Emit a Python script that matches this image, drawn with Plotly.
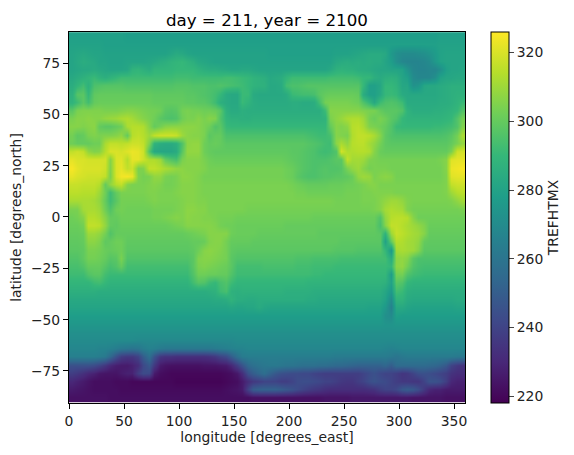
#!/usr/bin/env python3
"""Map of TREFHTMX for day 211, year 2100, values read off the reference picture."""

import plotly.graph_objects as go

# cell centres, 5 degree columns and 4 degree rows
lon = [2.5, 7.5, 12.5, 17.5, 22.5, 27.5, 32.5, 37.5, 42.5, 47.5, 52.5, 57.5, 62.5, 67.5, 72.5, 77.5, 82.5, 87.5,
       92.5, 97.5, 102.5, 107.5, 112.5, 117.5, 122.5, 127.5, 132.5, 137.5, 142.5, 147.5, 152.5, 157.5, 162.5, 167.5, 172.5, 177.5,
       182.5, 187.5, 192.5, 197.5, 202.5, 207.5, 212.5, 217.5, 222.5, 227.5, 232.5, 237.5, 242.5, 247.5, 252.5, 257.5, 262.5, 267.5,
       272.5, 277.5, 282.5, 287.5, 292.5, 297.5, 302.5, 307.5, 312.5, 317.5, 322.5, 327.5, 332.5, 337.5, 342.5, 347.5, 352.5, 357.5]
lat = [88, 84, 80, 76, 72, 68, 64, 60, 56, 52, 48, 44, 40, 36, 32, 28, 24, 20, 16, 12, 8, 4, 0,
       -4, -8, -12, -16, -20, -24, -28, -32, -36, -40, -44, -48, -52, -56, -60, -64, -68, -72, -76, -80, -84, -88]

# one row per latitude, four blocks of 18 columns each
trefhtmx = [
    [279, 279, 279, 279, 279, 279, 279, 279, 279, 279, 278, 278, 278, 278, 278, 278, 278, 278,
     278, 278, 278, 278, 278, 278, 278, 278, 278, 278, 278, 278, 278, 278, 278, 278, 278, 278,
     278, 278, 278, 278, 278, 278, 278, 278, 278, 278, 278, 278, 278, 278, 278, 278, 278, 278,
     278, 278, 278, 278, 278, 278, 278, 278, 278, 278, 278, 278, 278, 279, 279, 279, 279, 279],
    [280, 280, 280, 280, 280, 280, 279, 279, 279, 279, 279, 279, 279, 279, 279, 279, 279, 279,
     279, 279, 279, 279, 279, 279, 279, 279, 279, 279, 279, 279, 279, 279, 279, 279, 279, 279,
     279, 279, 279, 279, 279, 279, 279, 279, 279, 279, 279, 279, 279, 279, 279, 279, 279, 279,
     279, 279, 279, 279, 279, 279, 279, 279, 279, 279, 279, 279, 279, 280, 280, 280, 280, 280],
    [281, 282, 283, 282, 281, 281, 280, 280, 280, 280, 280, 280, 280, 280, 280, 280, 280, 280,
     282, 284, 283, 281, 280, 280, 280, 280, 280, 280, 280, 280, 280, 280, 280, 280, 280, 280,
     279, 279, 279, 279, 279, 279, 279, 279, 279, 279, 279, 279, 280, 280, 280, 281, 282, 283,
     284, 284, 284, 283, 276, 272, 270, 270, 270, 271, 272, 274, 277, 280, 281, 281, 281, 281],
    [281, 283, 285, 284, 283, 281, 281, 280, 280, 280, 281, 281, 281, 281, 282, 283, 285, 286,
     288, 289, 290, 288, 286, 283, 282, 281, 280, 280, 280, 280, 280, 280, 280, 280, 280, 280,
     280, 280, 280, 280, 280, 280, 280, 280, 280, 280, 280, 280, 283, 284, 285, 284, 285, 284,
     285, 284, 284, 281, 278, 272, 268, 267, 267, 267, 268, 270, 276, 280, 281, 281, 281, 281],
    [281, 282, 283, 283, 284, 283, 282, 281, 281, 281, 282, 288, 289, 287, 285, 289, 289, 289,
     289, 290, 290, 290, 290, 288, 286, 285, 285, 284, 283, 282, 282, 283, 283, 282, 281, 281,
     281, 281, 281, 281, 281, 281, 281, 281, 281, 281, 281, 283, 287, 288, 287, 287, 285, 285,
     284, 283, 282, 282, 281, 281, 280, 274, 268, 267, 267, 268, 268, 272, 279, 281, 281, 282],
    [283, 285, 287, 289, 291, 288, 286, 288, 290, 292, 292, 292, 292, 292, 292, 292, 292, 292,
     292, 293, 293, 293, 292, 292, 292, 292, 292, 292, 293, 293, 292, 291, 290, 288, 287, 286,
     283, 284, 285, 289, 292, 292, 292, 292, 292, 292, 292, 293, 293, 293, 293, 293, 292, 290,
     290, 286, 284, 286, 287, 286, 281, 279, 270, 268, 268, 268, 272, 280, 282, 282, 283, 283],
    [285, 289, 293, 287, 295, 296, 297, 297, 297, 297, 296, 296, 296, 296, 296, 296, 296, 296,
     296, 297, 297, 297, 296, 296, 296, 295, 295, 296, 295, 294, 293, 292, 290, 288, 287, 287,
     283, 283, 284, 293, 295, 295, 296, 297, 297, 297, 297, 297, 297, 297, 297, 297, 297, 290,
     279, 279, 282, 290, 290, 288, 282, 282, 273, 275, 282, 283, 283, 284, 285, 286, 286, 286],
    [287, 297, 298, 290, 299, 300, 300, 300, 300, 300, 300, 300, 300, 300, 300, 299, 299, 299,
     299, 299, 299, 298, 298, 297, 296, 295, 293, 290, 284, 283, 283, 291, 291, 284, 283, 283,
     283, 283, 283, 284, 291, 292, 293, 293, 294, 298, 300, 301, 301, 301, 301, 301, 300, 285,
     279, 279, 283, 290, 291, 290, 284, 283, 283, 283, 283, 283, 283, 284, 285, 286, 287, 287],
    [288, 292, 298, 293, 300, 301, 301, 301, 301, 301, 301, 301, 301, 301, 301, 300, 300, 300,
     300, 300, 300, 299, 299, 298, 298, 296, 292, 286, 284, 283, 283, 291, 288, 285, 284, 284,
     284, 284, 284, 284, 285, 285, 284, 284, 285, 293, 303, 304, 304, 304, 304, 303, 302, 296,
     290, 283, 292, 295, 296, 295, 292, 284, 284, 284, 284, 284, 284, 285, 285, 286, 288, 291],
    [298, 304, 305, 305, 305, 305, 304, 304, 304, 305, 306, 306, 305, 304, 303, 303, 302, 298,
     297, 298, 303, 304, 303, 303, 302, 302, 301, 298, 287, 284, 284, 286, 285, 285, 285, 285,
     285, 285, 285, 285, 285, 285, 285, 285, 285, 285, 292, 306, 306, 306, 306, 306, 306, 305,
     304, 304, 300, 298, 298, 298, 296, 288, 285, 285, 285, 285, 286, 286, 287, 288, 290, 296],
    [304, 306, 306, 307, 306, 306, 308, 309, 310, 312, 313, 311, 308, 306, 304, 302, 298, 296,
     295, 296, 302, 304, 304, 306, 304, 306, 305, 296, 289, 287, 287, 286, 286, 287, 287, 287,
     287, 287, 287, 287, 287, 287, 287, 287, 287, 287, 288, 304, 307, 309, 312, 313, 313, 310,
     303, 301, 304, 302, 298, 296, 290, 288, 288, 288, 288, 288, 288, 288, 289, 290, 296, 303],
    [306, 306, 305, 306, 307, 300, 298, 298, 300, 302, 312, 314, 314, 313, 306, 300, 303, 306,
     307, 307, 307, 307, 307, 306, 304, 302, 296, 298, 291, 290, 290, 290, 290, 290, 290, 290,
     290, 290, 290, 290, 290, 290, 290, 290, 290, 290, 290, 300, 306, 305, 307, 314, 315, 312,
     305, 304, 302, 300, 296, 291, 290, 290, 290, 290, 290, 290, 291, 291, 292, 293, 296, 305],
    [303, 299, 300, 304, 305, 304, 305, 305, 306, 308, 300, 314, 316, 314, 310, 316, 318, 318,
     318, 317, 310, 307, 306, 306, 304, 298, 300, 300, 295, 295, 295, 295, 295, 295, 295, 295,
     295, 295, 295, 295, 295, 295, 295, 294, 293, 292, 292, 294, 306, 305, 304, 313, 316, 316,
     315, 312, 306, 299, 296, 295, 295, 295, 295, 295, 295, 295, 295, 295, 296, 298, 303, 312],
    [302, 300, 300, 300, 302, 302, 312, 316, 316, 315, 316, 318, 318, 316, 305, 288, 285, 284,
     284, 286, 296, 307, 308, 308, 302, 300, 301, 300, 298, 298, 298, 298, 298, 298, 298, 298,
     298, 298, 298, 298, 298, 298, 298, 297, 296, 295, 293, 292, 307, 312, 308, 314, 315, 315,
     311, 308, 303, 299, 298, 298, 298, 298, 298, 298, 298, 298, 298, 298, 298, 300, 304, 308],
    [316, 318, 316, 308, 305, 306, 314, 320, 320, 319, 321, 323, 322, 318, 296, 283, 282, 282,
     282, 284, 298, 308, 308, 308, 302, 300, 299, 299, 299, 299, 299, 299, 299, 299, 299, 299,
     299, 299, 299, 299, 298, 298, 297, 296, 295, 293, 292, 293, 296, 319, 313, 313, 314, 314,
     313, 306, 301, 300, 300, 300, 300, 300, 300, 300, 300, 300, 300, 300, 300, 304, 318, 319],
    [322, 320, 320, 319, 319, 319, 319, 306, 320, 321, 314, 322, 322, 318, 313, 313, 310, 300,
     296, 294, 304, 306, 306, 306, 304, 302, 301, 301, 301, 301, 301, 301, 301, 301, 301, 301,
     301, 301, 301, 300, 299, 298, 297, 296, 295, 295, 295, 296, 298, 298, 316, 311, 311, 310,
     305, 304, 303, 303, 303, 303, 303, 303, 303, 303, 303, 303, 303, 304, 306, 321, 322, 322],
    [325, 322, 320, 320, 320, 320, 318, 305, 320, 322, 316, 318, 304, 305, 316, 316, 314, 312,
     310, 308, 307, 306, 306, 306, 305, 303, 303, 303, 303, 303, 303, 303, 303, 303, 303, 303,
     303, 303, 303, 302, 301, 299, 297, 296, 295, 296, 297, 296, 296, 297, 304, 308, 310, 306,
     303, 304, 304, 304, 303, 303, 303, 303, 303, 303, 303, 303, 303, 303, 306, 323, 324, 325],
    [322, 320, 319, 318, 318, 318, 316, 304, 320, 324, 325, 323, 305, 303, 304, 308, 308, 304,
     303, 304, 307, 307, 306, 305, 303, 303, 303, 303, 303, 303, 303, 303, 303, 303, 303, 303,
     303, 303, 303, 302, 301, 298, 296, 295, 295, 296, 297, 297, 298, 298, 299, 301, 308, 310,
     309, 304, 306, 307, 306, 303, 303, 303, 303, 303, 303, 303, 303, 303, 305, 321, 322, 322],
    [317, 317, 316, 316, 316, 314, 300, 308, 314, 316, 306, 304, 304, 304, 305, 306, 305, 303,
     303, 304, 306, 306, 306, 305, 304, 304, 304, 304, 304, 304, 304, 304, 304, 304, 304, 304,
     304, 304, 304, 304, 303, 302, 301, 300, 300, 300, 300, 301, 301, 301, 302, 302, 303, 304,
     306, 306, 304, 304, 304, 304, 304, 304, 304, 304, 304, 304, 304, 304, 305, 316, 318, 318],
    [315, 315, 314, 314, 314, 310, 302, 292, 300, 304, 304, 304, 304, 304, 305, 305, 304, 304,
     304, 305, 306, 306, 306, 305, 304, 304, 304, 304, 304, 304, 304, 304, 304, 304, 304, 304,
     304, 304, 304, 304, 304, 303, 303, 302, 302, 302, 302, 302, 302, 302, 303, 303, 303, 304,
     304, 305, 305, 305, 305, 304, 304, 304, 304, 304, 304, 304, 304, 304, 305, 310, 314, 315],
    [312, 312, 312, 312, 311, 308, 300, 292, 298, 303, 303, 303, 303, 303, 304, 305, 304, 304,
     304, 304, 305, 306, 306, 305, 305, 304, 304, 304, 304, 304, 304, 304, 304, 304, 304, 304,
     304, 304, 304, 304, 304, 304, 304, 304, 304, 304, 304, 304, 303, 303, 303, 303, 303, 304,
     304, 304, 306, 308, 310, 310, 308, 305, 304, 304, 304, 304, 304, 304, 304, 305, 308, 311],
    [304, 304, 311, 312, 312, 310, 302, 296, 302, 303, 302, 302, 302, 302, 302, 303, 303, 303,
     303, 304, 305, 307, 307, 306, 306, 304, 304, 304, 304, 304, 304, 304, 303, 303, 303, 303,
     303, 303, 303, 303, 303, 303, 303, 303, 303, 303, 303, 303, 303, 303, 303, 303, 303, 303,
     303, 304, 306, 311, 313, 312, 311, 305, 303, 303, 303, 303, 303, 303, 303, 303, 303, 304],
    [302, 303, 306, 314, 314, 312, 306, 300, 300, 302, 302, 302, 302, 302, 302, 303, 303, 304,
     305, 306, 305, 307, 306, 306, 305, 305, 304, 303, 303, 303, 302, 302, 302, 302, 302, 302,
     302, 302, 302, 302, 302, 302, 302, 302, 301, 301, 301, 301, 301, 301, 301, 301, 301, 301,
     301, 301, 296, 308, 314, 315, 315, 314, 306, 302, 302, 302, 302, 302, 302, 302, 302, 302],
    [301, 301, 303, 316, 316, 315, 308, 300, 299, 301, 301, 301, 301, 301, 301, 301, 301, 301,
     302, 303, 304, 306, 306, 306, 306, 306, 305, 303, 302, 302, 301, 301, 301, 301, 301, 301,
     301, 301, 301, 300, 300, 300, 300, 300, 300, 300, 300, 300, 300, 300, 300, 300, 300, 300,
     300, 300, 294, 306, 316, 316, 314, 312, 310, 308, 305, 301, 301, 301, 301, 301, 301, 301],
    [300, 300, 301, 310, 310, 308, 303, 296, 300, 300, 300, 300, 300, 300, 300, 300, 300, 300,
     300, 300, 300, 301, 302, 303, 304, 306, 306, 306, 306, 302, 301, 301, 301, 301, 300, 300,
     300, 300, 300, 300, 300, 300, 300, 300, 300, 299, 299, 299, 299, 299, 299, 299, 299, 299,
     299, 299, 298, 288, 310, 317, 315, 313, 311, 310, 306, 300, 300, 300, 300, 300, 300, 300],
    [299, 299, 300, 307, 307, 305, 299, 300, 302, 302, 299, 299, 299, 299, 299, 299, 299, 299,
     299, 299, 299, 299, 300, 300, 301, 305, 306, 306, 303, 300, 300, 300, 300, 299, 299, 299,
     299, 299, 299, 299, 299, 299, 299, 299, 299, 299, 299, 299, 299, 298, 298, 298, 298, 298,
     298, 298, 298, 280, 300, 314, 313, 311, 310, 308, 300, 299, 299, 299, 299, 299, 299, 299],
    [298, 298, 299, 304, 304, 303, 301, 300, 301, 302, 298, 298, 298, 298, 298, 298, 298, 298,
     298, 298, 298, 298, 299, 302, 306, 307, 306, 305, 303, 299, 298, 298, 298, 298, 298, 298,
     298, 298, 298, 298, 298, 298, 298, 298, 298, 298, 298, 298, 297, 297, 297, 297, 296, 296,
     296, 296, 296, 290, 276, 311, 312, 311, 310, 306, 298, 298, 298, 298, 298, 298, 298, 298],
    [296, 296, 299, 303, 303, 302, 300, 297, 298, 304, 296, 296, 296, 296, 296, 296, 296, 296,
     296, 296, 296, 296, 298, 305, 306, 306, 305, 304, 303, 298, 296, 296, 296, 296, 296, 296,
     296, 296, 296, 296, 296, 295, 295, 295, 294, 294, 294, 294, 294, 293, 293, 293, 293, 293,
     293, 293, 293, 293, 285, 307, 308, 306, 298, 295, 295, 295, 295, 295, 295, 295, 295, 295],
    [294, 294, 296, 300, 300, 300, 297, 294, 296, 300, 293, 293, 293, 293, 293, 293, 293, 293,
     293, 293, 293, 293, 298, 304, 305, 304, 303, 302, 301, 298, 293, 293, 293, 293, 293, 294,
     294, 294, 294, 294, 294, 293, 293, 293, 292, 292, 292, 292, 291, 291, 291, 291, 291, 291,
     291, 291, 291, 291, 290, 307, 308, 303, 296, 294, 293, 293, 293, 293, 293, 293, 293, 293],
    [292, 292, 292, 296, 298, 298, 293, 291, 291, 291, 291, 291, 291, 291, 291, 291, 291, 291,
     291, 291, 291, 291, 296, 302, 302, 301, 301, 300, 300, 296, 292, 292, 292, 292, 292, 292,
     292, 292, 292, 292, 292, 292, 292, 292, 291, 291, 290, 290, 290, 290, 290, 290, 290, 290,
     290, 290, 290, 290, 278, 303, 303, 296, 293, 292, 291, 291, 291, 291, 291, 291, 291, 291],
    [289, 289, 289, 289, 292, 293, 290, 288, 288, 288, 288, 288, 288, 288, 288, 288, 288, 288,
     288, 288, 288, 288, 293, 297, 296, 292, 290, 294, 296, 292, 289, 289, 289, 289, 289, 289,
     289, 289, 289, 289, 289, 289, 289, 288, 288, 288, 288, 288, 288, 288, 288, 288, 288, 288,
     288, 288, 288, 287, 280, 298, 296, 290, 288, 288, 288, 288, 288, 288, 288, 288, 288, 288],
    [286, 286, 286, 286, 286, 285, 285, 285, 285, 285, 285, 285, 285, 285, 285, 285, 285, 285,
     285, 285, 285, 285, 285, 285, 285, 286, 287, 292, 294, 287, 286, 287, 287, 287, 287, 287,
     287, 287, 287, 286, 286, 286, 286, 286, 285, 285, 285, 285, 285, 285, 285, 285, 285, 285,
     285, 285, 285, 282, 276, 293, 291, 286, 285, 285, 285, 285, 285, 285, 285, 285, 285, 285],
    [283, 283, 283, 283, 283, 283, 283, 283, 283, 283, 283, 283, 283, 283, 283, 283, 283, 283,
     283, 283, 283, 283, 283, 283, 283, 283, 284, 284, 285, 288, 285, 285, 284, 284, 285, 285,
     285, 285, 285, 285, 285, 285, 285, 284, 284, 283, 283, 283, 283, 283, 283, 283, 283, 283,
     283, 283, 283, 280, 270, 288, 288, 284, 283, 283, 283, 283, 283, 283, 283, 283, 284, 284],
    [281, 281, 281, 281, 281, 281, 281, 281, 281, 281, 281, 281, 281, 281, 281, 281, 281, 281,
     281, 281, 281, 281, 281, 281, 281, 281, 281, 281, 281, 282, 281, 281, 282, 282, 284, 282,
     281, 281, 281, 281, 281, 281, 281, 281, 281, 281, 281, 281, 281, 281, 281, 281, 281, 281,
     280, 280, 280, 276, 266, 283, 283, 281, 280, 280, 280, 280, 280, 280, 280, 280, 281, 281],
    [278, 278, 278, 278, 278, 278, 278, 278, 278, 278, 278, 278, 278, 278, 278, 278, 278, 278,
     278, 278, 278, 278, 278, 278, 278, 278, 278, 278, 278, 278, 278, 278, 278, 278, 278, 278,
     278, 278, 278, 278, 278, 278, 278, 278, 278, 278, 278, 278, 278, 278, 278, 278, 278, 278,
     278, 278, 278, 272, 270, 279, 278, 278, 278, 278, 278, 278, 278, 278, 278, 278, 278, 278],
    [275, 275, 275, 275, 275, 275, 275, 275, 275, 275, 275, 275, 275, 275, 275, 275, 275, 275,
     275, 275, 275, 275, 275, 275, 275, 275, 275, 275, 275, 275, 275, 275, 275, 275, 275, 275,
     275, 275, 275, 275, 275, 275, 275, 275, 275, 275, 275, 275, 275, 275, 275, 275, 275, 275,
     275, 275, 275, 274, 274, 275, 275, 275, 275, 275, 275, 275, 275, 275, 275, 275, 275, 275],
    [272, 272, 272, 272, 272, 272, 272, 272, 272, 272, 272, 272, 272, 272, 272, 272, 272, 272,
     272, 272, 272, 272, 272, 272, 272, 272, 272, 272, 272, 272, 272, 272, 272, 272, 272, 272,
     272, 272, 272, 272, 272, 272, 272, 272, 272, 272, 272, 272, 272, 272, 272, 272, 272, 272,
     272, 272, 272, 272, 272, 272, 272, 272, 272, 272, 272, 272, 272, 272, 272, 272, 272, 272],
    [270, 270, 270, 270, 270, 270, 270, 270, 270, 270, 270, 270, 269, 269, 269, 269, 269, 269,
     269, 269, 269, 269, 269, 269, 269, 269, 269, 269, 269, 269, 270, 270, 270, 270, 270, 270,
     270, 270, 270, 270, 270, 270, 270, 270, 270, 270, 270, 270, 270, 270, 270, 270, 270, 270,
     270, 270, 270, 270, 270, 270, 270, 270, 270, 270, 270, 270, 270, 270, 270, 270, 270, 270],
    [268, 268, 268, 268, 268, 267, 267, 266, 264, 262, 261, 260, 261, 264, 266, 265, 263, 262,
     262, 262, 262, 262, 262, 262, 262, 262, 263, 264, 265, 266, 267, 267, 268, 268, 268, 268,
     268, 268, 268, 268, 268, 268, 268, 268, 268, 268, 268, 268, 268, 268, 268, 268, 268, 268,
     268, 268, 268, 267, 266, 267, 268, 268, 268, 268, 268, 268, 268, 268, 268, 268, 268, 268],
    [265, 265, 265, 265, 265, 264, 262, 255, 245, 238, 236, 236, 240, 250, 258, 246, 236, 234,
     234, 233, 233, 233, 233, 233, 233, 234, 236, 240, 243, 250, 258, 263, 264, 264, 264, 264,
     264, 264, 264, 264, 264, 264, 264, 264, 264, 264, 264, 264, 263, 263, 263, 263, 263, 263,
     263, 263, 263, 263, 262, 260, 262, 263, 263, 263, 263, 263, 263, 263, 263, 263, 262, 262],
    [245, 245, 245, 245, 243, 240, 235, 230, 227, 226, 226, 228, 232, 242, 248, 236, 226, 224,
     223, 223, 223, 223, 223, 223, 224, 224, 224, 225, 226, 230, 238, 246, 255, 258, 260, 261,
     262, 262, 261, 260, 260, 259, 258, 258, 258, 257, 257, 256, 255, 255, 254, 253, 252, 252,
     252, 252, 252, 254, 250, 256, 256, 256, 256, 256, 256, 255, 254, 252, 248, 240, 236, 234],
    [238, 236, 233, 230, 228, 225, 224, 224, 224, 226, 228, 228, 238, 243, 242, 226, 222, 221,
     220, 220, 220, 220, 220, 220, 220, 220, 220, 220, 221, 222, 225, 232, 245, 250, 254, 257,
     252, 248, 245, 244, 243, 243, 242, 242, 240, 239, 238, 238, 238, 238, 238, 238, 238, 240,
     243, 245, 242, 240, 240, 238, 235, 236, 240, 244, 245, 244, 242, 240, 238, 234, 232, 232],
    [230, 228, 226, 224, 222, 222, 222, 222, 221, 221, 221, 220, 220, 220, 220, 220, 220, 220,
     220, 219, 219, 219, 219, 219, 219, 219, 219, 219, 220, 221, 222, 226, 232, 236, 238, 240,
     240, 240, 238, 238, 240, 243, 244, 244, 243, 242, 240, 240, 238, 236, 235, 235, 238, 240,
     244, 246, 244, 243, 240, 238, 236, 236, 235, 235, 240, 246, 246, 244, 238, 230, 228, 228],
    [226, 225, 224, 223, 222, 222, 222, 222, 222, 221, 221, 221, 221, 221, 221, 221, 221, 221,
     221, 221, 221, 221, 221, 221, 221, 221, 221, 221, 222, 223, 224, 226, 240, 250, 252, 252,
     252, 252, 250, 248, 246, 243, 240, 238, 236, 235, 233, 232, 232, 232, 232, 232, 232, 232,
     233, 234, 238, 240, 240, 242, 248, 250, 248, 244, 236, 230, 228, 228, 226, 226, 226, 226],
    [223, 223, 223, 223, 223, 223, 223, 222, 222, 222, 222, 222, 222, 222, 222, 222, 222, 222,
     222, 222, 222, 222, 222, 222, 222, 222, 222, 222, 222, 222, 222, 222, 222, 223, 223, 223,
     223, 223, 223, 223, 223, 223, 223, 223, 223, 223, 224, 224, 224, 224, 224, 225, 225, 225,
     225, 225, 225, 225, 225, 225, 225, 225, 224, 224, 224, 224, 224, 224, 223, 223, 223, 223],
]

x_ticks = [0, 50, 100, 150, 200, 250, 300, 350]
y_ticks = [-75, -50, -25, 0, 25, 50, 75]
cbar_ticks = [220, 240, 260, 280, 300, 320]

font = "DejaVu Sans"

fig = go.Figure()

fig.add_trace(go.Heatmap(
    x=lon,
    y=lat,
    z=trefhtmx,
    colorscale="Viridis",
    zmin=218,
    zmax=326,
    zsmooth="best",
    colorbar=dict(
        x=1.0657,
        xanchor="left",
        xpad=0,
        ypad=0,
        y=0.5,
        len=1,
        thickness=18,
        outlinewidth=1,
        outlinecolor="black",
        ticks="outside",
        ticklen=5,
        tickwidth=1,
        tickvals=cbar_ticks,
        tickfont=dict(family=font, size=13.9, color="#222222"),
        title=dict(text="TREFHTMX", side="right", font=dict(family=font, size=13.9, color="#222222")),
    ),
))

axis_style = dict(
    showgrid=False,
    zeroline=False,
    showline=True,
    mirror=True,
    linecolor="black",
    linewidth=1,
    ticks="outside",
    ticklen=5,
    tickwidth=1,
    tickcolor="black",
    tickfont=dict(family=font, size=13.9, color="#222222"),
)

fig.update_layout(
    width=574,
    height=455,
    autosize=False,
    margin=dict(l=69, r=109, t=32, b=52),
    paper_bgcolor="white",
    plot_bgcolor="white",
    title=dict(
        text="day = 211, year = 2100",
        font=dict(family=font, size=16.7, color="black"),
        x=0.465,
        xanchor="center",
        y=0.955,
        yanchor="middle",
    ),
    xaxis=dict(
        range=[0, 360],
        tickvals=x_ticks,
        title=dict(text="longitude [degrees_east]", font=dict(family=font, size=13.9, color="#222222"), standoff=3),
        **axis_style,
    ),
    yaxis=dict(
        range=[-90.6, 90.1],
        tickvals=y_ticks,
        title=dict(text="latitude [degrees_north]", font=dict(family=font, size=13.9, color="#222222"), standoff=6),
        **axis_style,
    ),
)

# the page would otherwise keep the browser's default body margin
fig.write_html("out.html", config={"displayModeBar": False}, post_script="document.body.style.margin='0';")
